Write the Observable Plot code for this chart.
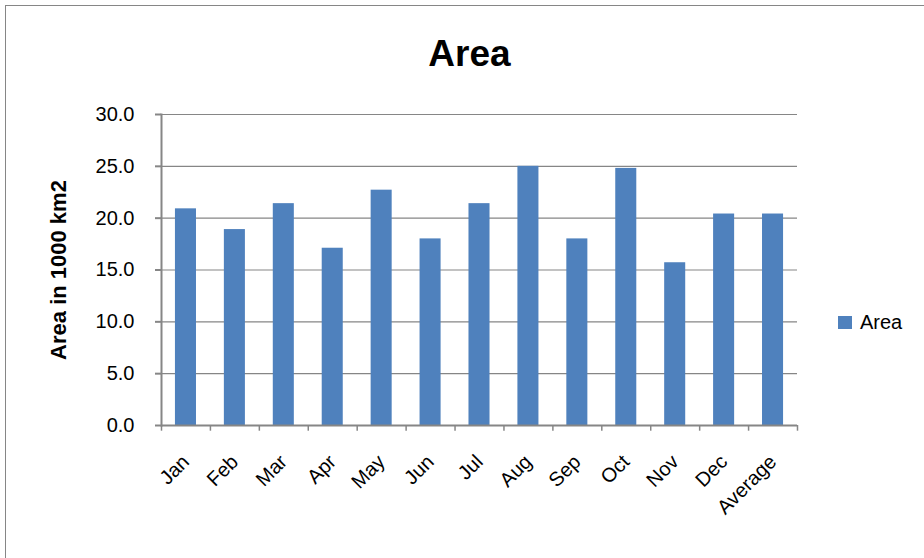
<!DOCTYPE html>
<html>
<head>
<meta charset="utf-8">
<script src="https://cdn.jsdelivr.net/npm/d3@7"></script>
<script src="https://cdn.jsdelivr.net/npm/@observablehq/plot@0.6"></script>
<style>
  html, body { margin: 0; padding: 0; background: #fff; }
</style>
</head>
<body>
<div id="chart"></div>
<script>
const categories = ["Jan", "Feb", "Mar", "Apr", "May", "Jun", "Jul", "Aug", "Sep", "Oct", "Nov", "Dec", "Average"];
const values = [20.9, 18.9, 21.4, 17.1, 22.7, 18.0, 21.4, 25.0, 18.0, 24.8, 15.7, 20.4, 20.4];
const yTicks = [0, 5, 10, 15, 20, 25, 30];
const seriesName = "Area";
const chartTitle = "Area";
const yTitle = "Area in 1000 km2";

const data = categories.map((c, i) => ({category: c, value: values[i]}));

const W = 924, H = 558;
const mL = 161, mR = 127, mT = 114, mB = 133;
const step = (W - mL - mR) / categories.length;
const gray = "#868686";
const barColor = "#4F81BD";
const font = "'Liberation Sans', Arial, sans-serif";

const chart = Plot.plot({
  width: W, height: H,
  marginLeft: mL, marginRight: mR, marginTop: mT, marginBottom: mB,
  style: {fontFamily: font, fontSize: "20px", color: "#000", background: "#fff"},
  x: {domain: categories, paddingInner: 0.57, paddingOuter: 0.285, round: false, label: null},
  y: {domain: [0, 30], label: null},
  marks: [
    Plot.gridY(yTicks, {stroke: gray, strokeOpacity: 1, strokeWidth: 1.2}),
    Plot.barY(data, {x: "category", y: "value", fill: barColor}),
    Plot.frame({anchor: "left", stroke: gray, strokeWidth: 2}),
    Plot.ruleY([0], {stroke: gray, strokeWidth: 2}),
    Plot.ruleX(categories, {x: d => d, dx: -step / 2, y1: 0, y2: -0.55, stroke: gray, strokeWidth: 1.5}),
    Plot.ruleX(categories.slice(-1), {x: d => d, dx: step / 2, y1: 0, y2: -0.55, stroke: gray, strokeWidth: 1.5}),
    Plot.axisY(yTicks, {tickFormat: d => d.toFixed(1), tickSize: 6, tickPadding: 21, stroke: gray, strokeWidth: 2, fill: "#000", fontSize: 20, label: null}),
    Plot.axisX({tickSize: 0, tickRotate: -45, tickPadding: 33, fill: "#000", fontSize: 20, label: null}),
    Plot.text([yTitle], {frameAnchor: "left", textAnchor: "middle", lineAnchor: "middle", dx: -103, rotate: -90, fontWeight: "bold", fontSize: 22, fill: "#000"}),
    Plot.text([chartTitle], {frameAnchor: "top", textAnchor: "middle", lineAnchor: "middle", dx: -10, dy: -60, fontWeight: "bold", fontSize: 37, fill: "#000"})
  ]
});

const svg = d3.select(chart);
svg.append("rect")
  .attr("x", 5.5).attr("y", 5.5).attr("width", 1000).attr("height", 1000)
  .attr("fill", "none").attr("stroke", gray).attr("stroke-width", 1);
const lg = svg.append("g");
lg.append("rect").attr("x", 838).attr("y", 316).attr("width", 14).attr("height", 13).attr("fill", barColor);
lg.append("text").attr("x", 860).attr("y", 329).attr("text-anchor", "start")
  .attr("font-size", 20).attr("font-family", font).attr("fill", "#000").text(seriesName);

document.getElementById("chart").appendChild(chart);
</script>
</body>
</html>
